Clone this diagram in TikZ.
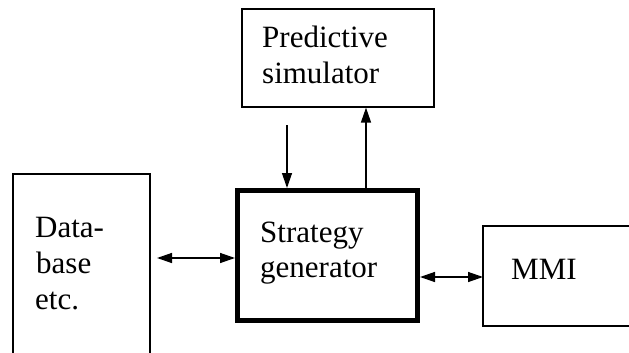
\documentclass[tikz,border=0pt]{standalone}
\usepackage{fontspec}
\setmainfont{Liberation Serif}
\usetikzlibrary{arrows.meta}
\begin{document}
\begin{tikzpicture}[x=1pt,y=-1pt,
  thinbox/.style={draw, line width=1.2pt, inner sep=0pt},
  thickbox/.style={draw, line width=5pt, inner sep=0pt},
  lbl/.style={anchor=base west, inner sep=0pt, font=\fontsize{31}{35}\selectfont},
  conn/.style={line width=1.3pt, -{Triangle[length=15pt,width=10pt]}},
  dconn/.style={line width=1.4pt, {Triangle[length=15pt,width=10pt]}-{Triangle[length=15pt,width=10pt]}}]
\useasboundingbox (0,0) rectangle (629,353);
% boxes
\node[thinbox, minimum width=192pt, minimum height=98pt] (pred) at (338,58) {};
\node[thickbox, minimum width=180pt, minimum height=130pt] (strat) at (327.5,255.5) {};
\draw[line width=1.2pt] (13,353) -- (13,174) -- (150,174) -- (150,353);
\draw[line width=1.2pt] (640,226) -- (483,226) -- (483,326) -- (640,326);
\coordinate (dbR) at (157,258);
\coordinate (mmiL) at (483,277);
% texts
\node[lbl] (p1) at (262,48) {Predictive};
\node[lbl] (p2) at (262,83) {simulator};
\node[lbl] (s1) at (260,242) {Strategy};
\node[lbl] (s2) at (260,277) {generator};
\node[lbl] (d1) at (35,237) {Data-};
\node[lbl] (d2) at (36,273) {base};
\node[lbl] (d3) at (35,309) {etc.};
\node[lbl] (m1) at (511,279) {MMI};
% connectors
\coordinate (downStart) at (287,125);
\draw[conn] (downStart) -- (downStart |- strat.north);
\coordinate (upStart) at (366,188);
\draw[conn] (upStart) -- (upStart |- pred.south);
\draw[dconn] (dbR) -- (dbR -| strat.west);
\draw[dconn] (mmiL -| strat.east) -- (mmiL);
\end{tikzpicture}
\end{document}
